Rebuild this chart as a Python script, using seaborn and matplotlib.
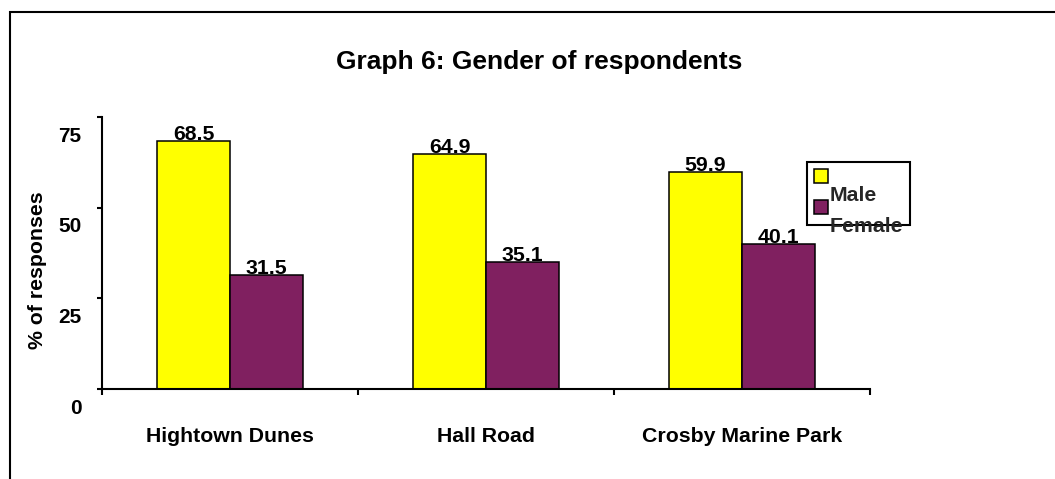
import matplotlib
matplotlib.use("Agg")
import matplotlib.pyplot as plt
import matplotlib.transforms as mtransforms
from matplotlib.patches import Patch, Rectangle
import pandas as pd
import seaborn as sns

# Chart data
sites = ["Hightown Dunes", "Hall Road", "Crosby Marine Park"]
genders = ["Male", "Female"]
male = [68.5, 64.9, 59.9]
female = [31.5, 35.1, 40.1]
y_ticks = [0, 25, 50, 75]

colors = {"Male": "#FFFF00", "Female": "#802060"}

df = pd.DataFrame({
    "site": sites * 2,
    "gender": ["Male"] * len(sites) + ["Female"] * len(sites),
    "pct": male + female,
})

sns.set_theme(style="white")
plt.rcParams["font.family"] = ["Liberation Sans", "DejaVu Sans"]
fs = 15.3

fig = plt.figure(figsize=(10.55, 4.79), dpi=100)
ax = fig.add_axes([102 / 1055, 1 - 389 / 479, 768 / 1055, 272 / 479])

sns.barplot(data=df, x="site", y="pct", hue="gender", order=sites, hue_order=genders,
            palette=colors, saturation=1, width=0.57, gap=0, edgecolor="black",
            linewidth=1.1, errorbar=None, legend=False, ax=ax)

ax.set_xlim(-0.5, 2.5)
ax.set_ylim(0, 75)

# spines
for s in ["top", "right"]:
    ax.spines[s].set_visible(False)
for s in ["left", "bottom"]:
    ax.spines[s].set_color("black")
    ax.spines[s].set_linewidth(1.5)

# x axis: ticks at category boundaries, labels drawn underneath
ax.set_xticks([-0.5, 0.5, 1.5, 2.5])
ax.set_xticklabels([])
ax.tick_params(axis="x", bottom=True, direction="out", length=4.5, width=1.5, color="black")
ax.set_xlabel("")
blend = mtransforms.blended_transform_factory(ax.transData, ax.transAxes)
for i, site in enumerate(sites):
    ax.text(i, -0.173, site, transform=blend, ha="center", va="center",
            fontsize=fs, fontweight="bold", color="black")

# y axis
ax.set_yticks(y_ticks)
ax.set_yticklabels([str(v) for v in y_ticks], fontsize=15, fontweight="bold", color="black")
ax.tick_params(axis="y", left=True, direction="out", length=3.6, width=1.5, pad=11, color="black")
shift = mtransforms.ScaledTranslation(0, -17 / 100, fig.dpi_scale_trans)
for lab in ax.get_yticklabels():
    lab.set_transform(lab.get_transform() + shift)
ax.set_ylabel("% of responses", fontsize=fs, fontweight="bold", color="black")
ax.yaxis.set_label_coords(-0.072, 0.4375)

# value labels
for c in ax.containers:
    ax.bar_label(c, fmt="%.1f", padding=-2.5, fontsize=fs, fontweight="bold", color="black")

# legend
handles = [Patch(facecolor=colors[g], edgecolor="black", linewidth=1.1, label=g) for g in genders]
leg = ax.legend(handles=handles, loc="upper left", bbox_to_anchor=(0.918, 0.835),
                borderaxespad=0, frameon=True, fancybox=False, edgecolor="black",
                framealpha=1, prop={"size": fs, "weight": "bold"},
                handlelength=0.65, handleheight=0.65, handletextpad=0.1,
                borderpad=0.32, labelspacing=0.56)
leg.get_frame().set_linewidth(1.5)
for t in leg.get_texts():
    t.set_transform(t.get_transform() + shift)

# title
fig.text(539 / 1055, 1 - 62 / 479, "Graph 6: Gender of respondents", ha="center", va="center",
         fontsize=19, fontweight="bold", color="black")

# outer chart frame
frame = Rectangle((10 / 1055, -0.1), 1.2, 1.1 - 12 / 479, transform=fig.transFigure,
                  fill=False, edgecolor="black", linewidth=1.5)
fig.add_artist(frame)

fig.savefig("out.png", dpi=100)
